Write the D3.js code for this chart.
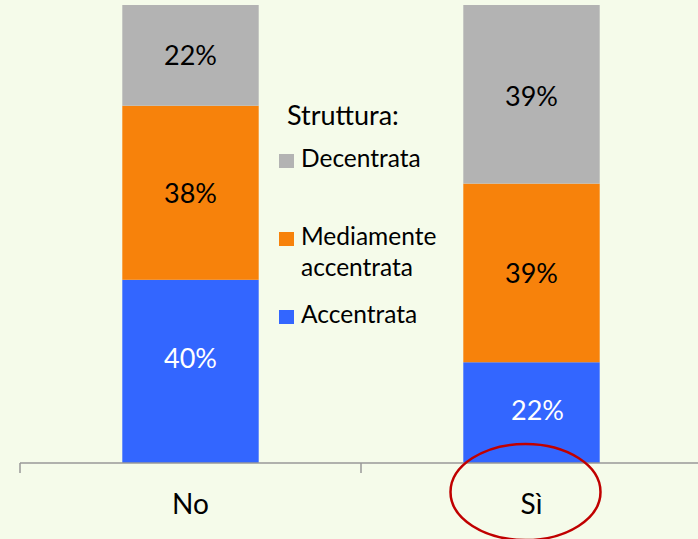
<!DOCTYPE html>
<html>
<head>
<meta charset="utf-8">
<script src="https://cdn.jsdelivr.net/npm/d3@7"></script>
<style>
  body { margin: 0; background: #f5fbea; }
  svg { display: block; font-family: Lato, "Open Sans", sans-serif; }
</style>
</head>
<body>
<script>
// categorie e valori (quota in %)
const categories = ["No", "Sì"];
const seriesNames = ["Accentrata", "Mediamente accentrata", "Decentrata"];
const accentrata = [40, 22];
const mediamente = [38, 39];
const decentrata = [22, 39];
const legendLabels = [["Decentrata"], ["Mediamente", "accentrata"], ["Accentrata"]];

const colors = { "Accentrata": "#3366ff", "Mediamente accentrata": "#f7820b", "Decentrata": "#b3b3b3" };
const textColors = { "Accentrata": "#ffffff", "Mediamente accentrata": "#000000", "Decentrata": "#000000" };

// piccoli spostamenti delle etichette come nell'originale
const labelShift = { "Accentrata|No": [0, -13], "Accentrata|Sì": [6, -2], "Decentrata|Sì": [0, 2] };

const W = 698, H = 539;
const svg = d3.select("body").append("svg").attr("width", W).attr("height", H);

svg.append("rect").attr("width", W).attr("height", H).attr("fill", "#f5fbea");

const rows = categories.map((c, i) => ({
  cat: c,
  "Accentrata": accentrata[i],
  "Mediamente accentrata": mediamente[i],
  "Decentrata": decentrata[i]
}));

const stack = d3.stack().keys(seriesNames)(rows);

const x = d3.scaleBand().domain(categories).range([20, 702]).paddingInner(0.6).paddingOuter(0.3);
const y = d3.scaleLinear().domain([0, 100]).range([463, 5]);

// barre
const layers = svg.selectAll("g.layer")
  .data(stack)
  .enter().append("g")
  .attr("class", "layer")
  .attr("fill", d => colors[d.key]);

layers.selectAll("rect")
  .data(d => d)
  .enter().append("rect")
  .attr("x", d => x(d.data.cat))
  .attr("y", d => y(d[1]))
  .attr("width", x.bandwidth())
  .attr("height", d => y(d[0]) - y(d[1]));

// etichette
stack.forEach(s => {
  svg.selectAll(null)
    .data(s)
    .enter().append("text")
    .attr("x", d => x(d.data.cat) + x.bandwidth() / 2 + (labelShift[s.key + "|" + d.data.cat] || [0, 0])[0])
    .attr("y", d => (y(d[0]) + y(d[1])) / 2 + (labelShift[s.key + "|" + d.data.cat] || [0, 0])[1])
    .attr("dy", "0.36em")
    .attr("text-anchor", "middle")
    .attr("font-size", 27)
    .attr("fill", textColors[s.key])
    .text(d => d.data[s.key] + "%");
});

// asse x
const axisG = svg.append("g").attr("transform", "translate(0,463)");
axisG.append("line").attr("x1", 20).attr("x2", W).attr("stroke", "#999").attr("stroke-width", 1.5);
const tickPos = [20, 20 + x.step()];
axisG.selectAll("line.tick")
  .data(tickPos)
  .enter().append("line")
  .attr("class", "tick")
  .attr("x1", d => d).attr("x2", d => d)
  .attr("y1", 0).attr("y2", 10)
  .attr("stroke", "#999").attr("stroke-width", 1.5);

axisG.selectAll("text")
  .data(categories)
  .enter().append("text")
  .attr("x", d => x(d) + x.bandwidth() / 2)
  .attr("y", 51)
  .attr("text-anchor", "middle")
  .attr("font-size", 28)
  .attr("fill", "#000")
  .text(d => d);

// legenda
const lg = svg.append("g");
lg.append("text").attr("x", 287).attr("y", 125).attr("font-size", 27).text("Struttura:");
const legendKeys = ["Decentrata", "Mediamente accentrata", "Accentrata"];
const legendY = [154, 232, 310];
legendKeys.forEach((k, i) => {
  lg.append("rect").attr("x", 279).attr("y", legendY[i]).attr("width", 15).attr("height", 14).attr("fill", colors[k]);
  legendLabels[i].forEach((line, j) => {
    lg.append("text").attr("x", 301).attr("y", legendY[i] + 13 + j * 31)
      .attr("font-size", 24.5).attr("fill", "#000").text(line);
  });
});

// cerchio rosso intorno a "Sì"
svg.append("ellipse")
  .attr("cx", 525.5).attr("cy", 492)
  .attr("rx", 75).attr("ry", 48)
  .attr("fill", "none").attr("stroke", "#c00000").attr("stroke-width", 2.5);
</script>
</body>
</html>
